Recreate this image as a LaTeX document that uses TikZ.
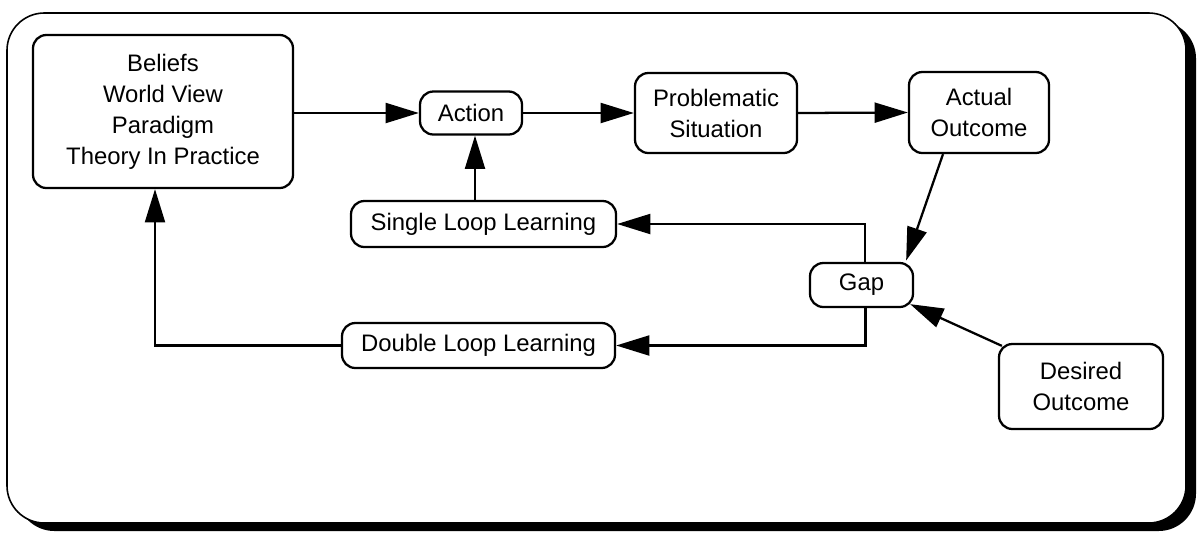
\documentclass[tikz,border=0pt]{standalone}
\usepackage{fontspec}
\setmainfont{Liberation Sans}
\usetikzlibrary{arrows.meta}

\tikzset{every picture/.style={line width=1.5pt}}
\tikzset{
  loopbox/.style={draw, rounded corners=10pt, line width=1.7pt, fill=white, inner sep=0pt,
    align=center, font=\fontsize{17.9}{23.25}\selectfont},
  arr/.style={-{Triangle[length=25pt,width=15pt]}, line width=1.7pt}
}

\begin{document}
\begin{tikzpicture}[x=0.75pt,y=0.75pt,yscale=-1,xscale=1]
    \useasboundingbox (0,0) rectangle (1199,533);

    %Shape: Frame with shadow
    \fill[rounded corners=28pt] (17,21) rectangle (1196,531);
    \draw[fill=white, line width=1.2pt, rounded corners=28pt] (7,13) rectangle (1186,523);

    % Boxes
    \node[loopbox, minimum width=195pt, minimum height=114.75pt] (beliefs) at (163,111.5) {\raisebox{-3pt}{\begin{tabular}{@{}c@{}}Beliefs\\World View\\Paradigm\\Theory In Practice\end{tabular}}};
    \node[loopbox, minimum width=76.5pt, minimum height=32.25pt] (action) at (471,113) {Action};
    \node[loopbox, minimum width=121.5pt, minimum height=60pt] (problem) at (716,113) {Problematic\\Situation};
    \node[loopbox, minimum width=105pt, minimum height=60.75pt] (actual) at (979,112.5) {Actual\\Outcome};
    \node[loopbox, minimum width=77.25pt, minimum height=33pt] (gap) at (861.5,285) {Gap};
    \node[loopbox, minimum width=198.75pt, minimum height=34.5pt] (single) at (483.5,224) {Single Loop Learning};
    \node[loopbox, minimum width=204.75pt, minimum height=33.75pt] (double) at (478.5,345.5) {Double Loop Learning};
    \node[loopbox, minimum width=123pt, minimum height=63.75pt] (desired) at (1081,386.5) {Desired\\Outcome};

    % Connectors
    \draw[arr] (beliefs.east |- action) -- (action.west);
    \draw[arr] (action.east) -- (problem.west);
    \draw[arr] (problem.east) -- (actual.west);
    \draw[arr] ([xshift=-27pt]actual.south) -- ([xshift=-6pt,yshift=-1pt]gap.north east);
    \draw[arr] ([shift={(4,3)}]desired.north west) -- ([shift={(-4,-4)}]gap.south east);
    \draw[arr] ([xshift=2.5pt]gap.north) |- (single.east);
    \draw[arr] ([xshift=3pt]gap.south) |- (double.east);
    \draw[arr] ([xshift=3pt]action.south |- single.north) -- ([xshift=3pt]action.south);
    \draw[arr] (double.west) -| ([xshift=-6pt]beliefs.south);

\end{tikzpicture}
\end{document}
